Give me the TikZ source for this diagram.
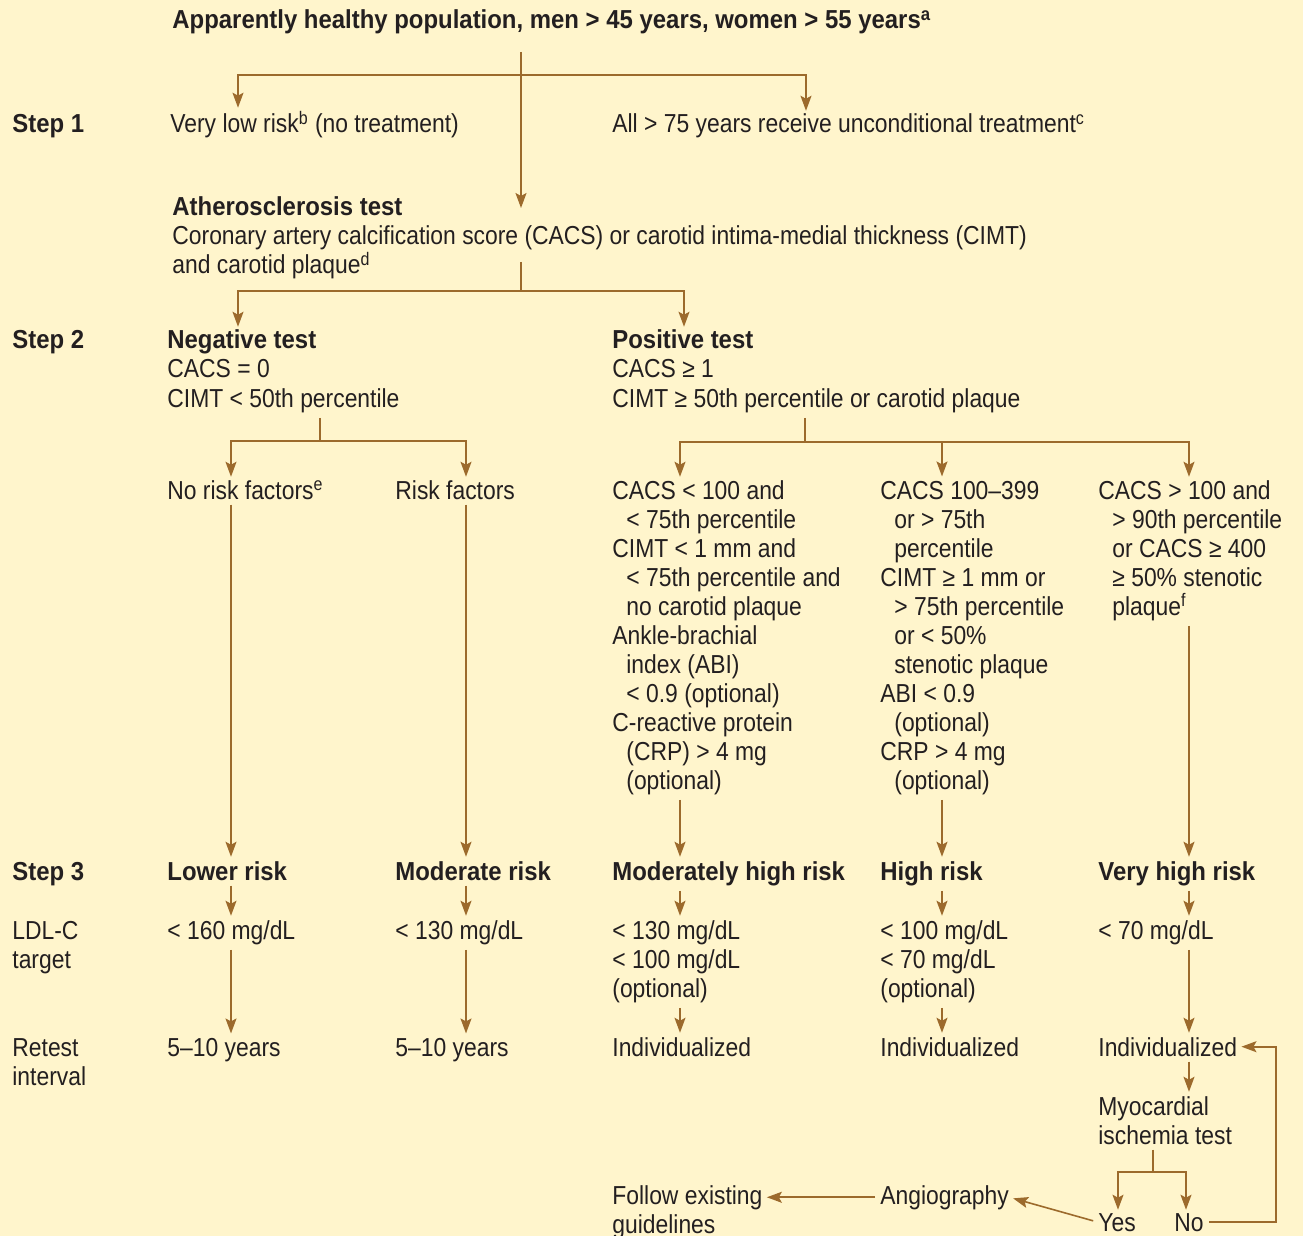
\documentclass[tikz,border=0pt]{standalone}
\usepackage{fontspec}
\setmainfont{Liberation Sans}[FakeStretch=0.88, BoldFeatures={FakeStretch=0.92}]
\usetikzlibrary{arrows.meta}
\definecolor{panel}{HTML}{FFF5CC}
\definecolor{brownline}{HTML}{9C6A2C}
\definecolor{ink}{HTML}{231F20}
\newcommand{\subind}{\hspace*{7pt}}

\begin{document}
\begin{tikzpicture}[
    x=0.5pt, y=-0.5pt,
    txt/.style={anchor=base west, inner sep=0pt, align=left, text=ink, font=\fontsize{13}{14.5}\selectfont},
    head/.style={txt, font=\fontsize{13}{14.5}\selectfont\bfseries},
    link/.style={draw=brownline, line width=0.8pt},
    tip/.tip={Stealth[length=7.5pt, width=5.5pt, inset=1.5pt]},
    arr/.style={link, -tip, shorten <=2.5pt, shorten >=2pt},
    fork/.style={link, tip-tip, shorten <=1.5pt, shorten >=1.5pt}
]
    \fill[panel] (0,0) rectangle (1303,1236);
    \useasboundingbox (0,0) rectangle (1303,1236);

    % title and step 1 (multi-line nodes sit on the baseline of their last line)
    \node[head] (title) at (172,29) {Apparently healthy population, men > 45 years, women > 55 years\textsuperscript{a}};
    \node[head] (step1) at (12,133) {Step 1};
    \node[txt] (verylow) at (170,133) {Very low risk\textsuperscript{b} (no treatment)};
    \node[txt] (all75) at (612,133) {All > 75 years receive unconditional treatment\textsuperscript{c}};
    \node[head] (athhead) at (172,216) {Atherosclerosis test};
    \node[txt] (athero) at (172,274) {Coronary artery calcification score (CACS) or carotid intima-medial thickness (CIMT)\\and carotid plaque\textsuperscript{d}};

    % step 2
    \node[head] (step2) at (12,349) {Step 2};
    \node[txt] (negtest) at (167,407) {\textbf{Negative test}\\CACS = 0\\CIMT < 50th percentile};
    \node[txt] (postest) at (612,407) {\textbf{Positive test}\\CACS ≥ 1\\CIMT ≥ 50th percentile or carotid plaque};

    \node[txt] (norisk) at (167,499) {No risk factors\textsuperscript{e}};
    \node[txt] (risk) at (395,499) {Risk factors};
    \node[txt] (modcrit) at (612,789) {CACS < 100 and\\
        \subind< 75th percentile\\
        CIMT < 1 mm and\\
        \subind< 75th percentile and\\
        \subind no carotid plaque\\
        Ankle-brachial\\
        \subind index (ABI)\\
        \subind< 0.9 (optional)\\
        C-reactive protein\\
        \subind(CRP) > 4 mg\\
        \subind(optional)};
    \node[txt] (highcrit) at (880,789) {CACS 100–399\\
        \subind or > 75th\\
        \subind percentile\\
        CIMT ≥ 1 mm or\\
        \subind> 75th percentile\\
        \subind or < 50\%\\
        \subind stenotic plaque\\
        ABI < 0.9\\
        \subind(optional)\\
        CRP > 4 mg\\
        \subind(optional)};
    \node[txt] (vhighcrit) at (1098,615) {CACS > 100 and\\
        \subind> 90th percentile\\
        \subind or CACS ≥ 400\\
        \subind≥ 50\% stenotic\\
        \subind plaque\textsuperscript{f}};

    % step 3
    \node[head] (step3) at (12,880) {Step 3};
    \node[head] (lower) at (167,880) {Lower risk};
    \node[head] (moderate) at (395,880) {Moderate risk};
    \node[head] (modhigh) at (612,880) {Moderately high risk};
    \node[head] (high) at (880,880) {High risk};
    \node[head] (vhigh) at (1098,880) {Very high risk};

    \node[txt] (ldl) at (12,968) {LDL-C\\target};
    \node[txt] (ldl1) at (167,939) {< 160 mg/dL};
    \node[txt] (ldl2) at (395,939) {< 130 mg/dL};
    \node[txt] (ldl3) at (612,997) {< 130 mg/dL\\< 100 mg/dL\\(optional)};
    \node[txt] (ldl4) at (880,997) {< 100 mg/dL\\< 70 mg/dL\\(optional)};
    \node[txt] (ldl5) at (1098,939) {< 70 mg/dL};

    \node[txt] (retest) at (12,1085) {Retest\\interval};
    \node[txt] (ret1) at (167,1056) {5–10 years};
    \node[txt] (ret2) at (395,1056) {5–10 years};
    \node[txt] (ret3) at (612,1056) {Individualized};
    \node[txt] (ret4) at (880,1056) {Individualized};
    \node[txt] (ret5) at (1098,1056) {Individualized};

    \node[txt] (ischemia) at (1098,1144) {Myocardial\\ischemia test};
    \node[txt] (follow) at (612,1233) {Follow existing\\guidelines};
    \node[txt] (angio) at (880,1204) {Angiography};
    \node[txt] (yes) at (1098,1231) {Yes};
    \node[txt] (no) at (1174,1231) {No};

    % junctions
    \coordinate (trunk) at (521,75);
    \coordinate (b1) at (238,75);
    \coordinate (b2) at (806,75);
    \coordinate (a2) at (521,262);
    \coordinate (j2) at (521,291);
    \coordinate (b3) at (238,291);
    \coordinate (b4) at (684,291);
    \coordinate (j3) at (320,441);
    \coordinate (c1) at (231,441);
    \coordinate (c2) at (466,441);
    \coordinate (j4) at (805,442);
    \coordinate (c3) at (680,442);
    \coordinate (c4) at (942,442);
    \coordinate (c5) at (1189,442);
    \coordinate (j5) at (1153,1172);
    \coordinate (d1) at (1118,1172);
    \coordinate (d2) at (1186,1172);

    % trees
    \draw[arr, shorten <=8.5pt, shorten >=4pt] (title.south -| trunk) -- (trunk |- athhead.base);
    \draw[fork] (b1 |- verylow.north) -- (b1) -- (b2) -- (b2 |- all75.north);
    \draw[link] (a2) -- (j2);
    \draw[fork] (b3 |- negtest.north) -- (b3) -- (b4) -- (b4 |- postest.north);
    \draw[link, shorten <=2.5pt] (negtest.south -| j3) -- (j3);
    \draw[fork] (c1 |- norisk.north) -- (c1) -- (c2) -- (c2 |- risk.north);
    \draw[link, shorten <=2.5pt] (postest.south -| j4) -- (j4);
    \draw[fork] (c3 |- modcrit.north) -- (c3) -- (c5) -- (c5 |- vhighcrit.north);
    \draw[arr, shorten <=0pt] (c4) -- (c4 |- highcrit.north);

    % columns
    \draw[arr] (norisk.south -| c1) -- (lower.north -| c1);
    \draw[arr] (lower.south -| c1) -- (ldl1.north -| c1);
    \draw[arr] (ldl1.south -| c1) -- (ret1.north -| c1);
    \draw[arr] (risk.south -| c2) -- (moderate.north -| c2);
    \draw[arr] (moderate.south -| c2) -- (ldl2.north -| c2);
    \draw[arr] (ldl2.south -| c2) -- (ret2.north -| c2);
    \draw[arr] (modcrit.south -| c3) -- (modhigh.north -| c3);
    \draw[arr] (modhigh.south -| c3) -- (ldl3.north -| c3);
    \draw[arr] (ldl3.south -| c3) -- (ret3.north -| c3);
    \draw[arr] (highcrit.south -| c4) -- (high.north -| c4);
    \draw[arr] (high.south -| c4) -- (ldl4.north -| c4);
    \draw[arr] (ldl4.south -| c4) -- (ret4.north -| c4);
    \draw[arr] (vhighcrit.south -| c5) -- (vhigh.north -| c5);
    \draw[arr] (vhigh.south -| c5) -- (ldl5.north -| c5);
    \draw[arr] (ldl5.south -| c5) -- (ret5.north -| c5);
    \draw[arr] (ret5.south -| c5) -- (ischemia.north -| c5);

    % ischemia test outcome
    \draw[link, shorten <=2.5pt] (ischemia.south -| j5) -- (j5);
    \draw[fork] (d1 |- yes.north) -- (d1) -- (d2) -- (d2 |- no.north);
    \draw[arr] (no.east) -- ++(72,0) |- (ret5.east);
    \draw[arr] (yes.west) -- (angio.east);
    \draw[arr] (angio.west) -- (angio.west -| follow.east);
\end{tikzpicture}
\end{document}
